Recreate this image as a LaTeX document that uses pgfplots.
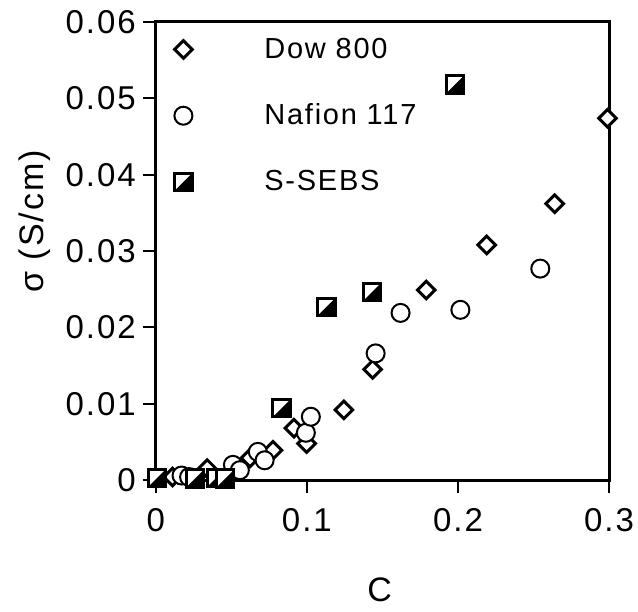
\documentclass[border=0pt]{standalone}
\usepackage{fontspec}
\setmainfont{Liberation Sans}[LetterSpace=6]
\usepackage{pgfplots}
\pgfplotsset{compat=1.18}

% square with its lower right half black
\pgfdeclareplotmark{halfsq}{%
  \pgfsetfillcolor{white}%
  \pgfpathrectangle{\pgfqpoint{-\pgfplotmarksize}{-\pgfplotmarksize}}{\pgfqpoint{2\pgfplotmarksize}{2\pgfplotmarksize}}%
  \pgfusepathqfill
  \pgfsetfillcolor{black}%
  \pgfpathmoveto{\pgfqpoint{\pgfplotmarksize}{-\pgfplotmarksize}}%
  \pgfpathlineto{\pgfqpoint{\pgfplotmarksize}{\pgfplotmarksize}}%
  \pgfpathlineto{\pgfqpoint{-\pgfplotmarksize}{-\pgfplotmarksize}}%
  \pgfpathclose
  \pgfusepathqfill
  \pgfpathrectangle{\pgfqpoint{-\pgfplotmarksize}{-\pgfplotmarksize}}{\pgfqpoint{2\pgfplotmarksize}{2\pgfplotmarksize}}%
  \pgfusepathqstroke
}
% square diamond (equal width and height)
\pgfdeclareplotmark{sqdiamond}{%
  \pgfpathmoveto{\pgfqpoint{0pt}{\pgfplotmarksize}}%
  \pgfpathlineto{\pgfqpoint{\pgfplotmarksize}{0pt}}%
  \pgfpathlineto{\pgfqpoint{0pt}{-\pgfplotmarksize}}%
  \pgfpathlineto{\pgfqpoint{-\pgfplotmarksize}{0pt}}%
  \pgfpathclose
  \pgfusepathqfillstroke
}

\begin{document}
\begin{tikzpicture}
  \begin{axis}[
      width=226.5pt, height=229pt, scale only axis,
      xmin=0, xmax=0.3, ymin=0, ymax=0.06,
      clip=false,
      axis line style={line width=1.5pt},
      xtick={0,0.1,0.2,0.3},
      ytick={0,0.01,0.02,0.03,0.04,0.05,0.06},
      tick pos=left, tick align=outside,
      major tick length=6.5pt,
      tick style={line width=1pt, black},
      scaled y ticks=false, scaled x ticks=false,
      /pgf/number format/assume math mode=true,
      yticklabel style={/pgf/number format/fixed, /pgf/number format/precision=2},
      xticklabel style={yshift=-4pt},
      ticklabel style={font=\fontsize{16.5}{18}\selectfont},
      xlabel={C}, ylabel={σ (S/cm)},
      label style={font=\fontsize{17}{20}\selectfont},
      xlabel style={at={(axis description cs:0.494,-0.24)}, anchor=center},
      ylabel style={at={(axis description cs:-0.267,0.565)}, anchor=center},
      legend image code/.code={\draw[#1] plot coordinates {(0pt,0pt)};},
      legend style={draw=none, fill=none, at={(axis description cs:0.04,0.975)},
        anchor=north west, row sep=17.3pt, column sep=34pt,
        font=\fontsize{14.5}{16}\selectfont, inner sep=0pt},
      legend cell align=left,
    ]
    \addplot[only marks, mark=sqdiamond, mark size=4.4pt, line width=1.5pt,
      draw=black, fill=white] coordinates {
      (0.011,0.0004) (0.034,0.0015) (0.0623,0.0029) (0.070,0.0033)
      (0.0775,0.0039) (0.0914,0.0068) (0.0998,0.0048) (0.1245,0.0092)
      (0.1435,0.0145) (0.179,0.0249) (0.219,0.0308) (0.264,0.0362)
      (0.299,0.0474)
    };
    \addlegendentry{Dow 800}
    \addplot[only marks, mark=*, mark size=4.5pt, line width=1pt,
      draw=black, fill=white] coordinates {
      (0.017,0.0006) (0.022,0.0004) (0.051,0.0020) (0.0556,0.0013)
      (0.0675,0.0037) (0.072,0.0026) (0.0993,0.0062) (0.1026,0.0083)
      (0.1455,0.0166) (0.162,0.0219) (0.2016,0.0223) (0.2545,0.0277)
    };
    \addlegendentry{Nafion 117}
    \addplot[only marks, mark=halfsq, mark size=4.3pt, line width=1.5pt,
      draw=black] coordinates {
      (0.001,0.0003) (0.026,0.0002) (0.040,0.0003) (0.046,0.0002)
      (0.0832,0.0094) (0.113,0.0227) (0.143,0.0246) (0.198,0.0518)
    };
    \addlegendentry{S-SEBS}
    \coordinate (bbsw) at (rel axis cs:-0.344,-0.286);
    \coordinate (bbne) at (rel axis cs:1.064,1.048);
  \end{axis}
  \pgfresetboundingbox
  \path[use as bounding box] (bbsw) rectangle (bbne);
\end{tikzpicture}
\end{document}
